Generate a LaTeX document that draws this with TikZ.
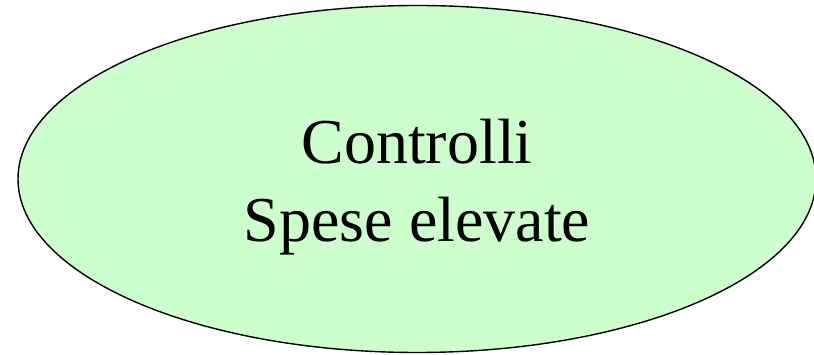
\documentclass[tikz,border=0pt]{standalone}
\usepackage{fontspec}
\setmainfont{Liberation Serif}
\usetikzlibrary{shapes, positioning}
\definecolor{paleverde}{HTML}{CCFFCC}

\begin{document}
\begin{tikzpicture}[
          x=1pt, y=-1pt,
          bubble/.style={ellipse, draw=black, line width=1.4pt, fill=paleverde,
            minimum width=798pt, minimum height=347pt, inner sep=0pt},
          testo/.style={align=center, inner sep=0pt, font=\fontsize{64}{78}\selectfont}
        ]
        \useasboundingbox (0,0) rectangle (814,355);
        \node[bubble] (controlli) at (417,179) {};
        \node[testo] (scritta) at ([yshift=-8pt]controlli.center) {Controlli\\Spese elevate};
        \end{tikzpicture}
\end{document}
